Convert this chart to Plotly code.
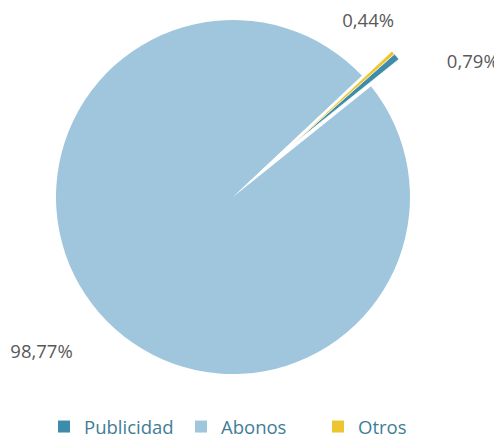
import plotly.graph_objects as go

categories = ["Publicidad", "Abonos", "Otros"]
values = [0.79, 98.77, 0.44]
colors = ["#3E8BAA", "#A0C6DD", "#EDC530"]

# page has an 8px body margin, so the figure is 494x433
W, H = 494, 433
FONT = "Open Sans"
ROT = 48.4
LABEL_FONT = dict(family=FONT, size=18.5, color="#595959")
CLEAR = "rgba(0,0,0,0)"


def dom(cx, cy, r):
    return dict(x=[(cx - r) / W, (cx + r) / W], y=[1 - (cy + r) / H, 1 - (cy - r) / H])


def pie(**kw):
    return go.Pie(labels=categories, values=values, sort=False,
                  direction="clockwise", rotation=ROT, **kw)


def label_pie(idx, cx, cy, r):
    tt = ["", "", ""]
    tt[idx] = "%{percent:.2%}"
    return pie(marker=dict(colors=[CLEAR] * 3, line=dict(width=0)),
               texttemplate=tt, textposition="outside", outsidetextfont=LABEL_FONT,
               domain=dom(cx, cy, r), showlegend=False, hoverinfo="skip")


fig = go.Figure()

# Legend-only pie (tiny, invisible)
fig.add_trace(pie(marker=dict(colors=colors), textinfo="none",
                  domain=dict(x=[0, 0.0005], y=[0, 0.0005]),
                  showlegend=True, hoverinfo="skip"))

# Main pie: Abonos drawn, small slices leave a white gap
fig.add_trace(pie(marker=dict(colors=["#FFFFFF", colors[1], "#FFFFFF"], line=dict(width=0)),
                  textinfo="none", domain=dom(225, 189, 177), showlegend=False))

# Exploded small slices
fig.add_trace(pie(marker=dict(colors=[colors[0], CLEAR, colors[2]],
                              line=dict(color=["#FFFFFF", CLEAR, "#FFFFFF"], width=[0.6, 0, 0.6])),
                  textinfo="none", domain=dom(284, 137, 137), showlegend=False))

# Outside data labels
fig.add_trace(label_pie(1, 222, 206, 200))   # Abonos
fig.add_trace(label_pie(0, 318, 154, 150))   # Publicidad
fig.add_trace(label_pie(2, 291, 51, 50))     # Otros

fig.update_layout(
    width=W, height=H,
    margin=dict(l=0, r=0, t=0, b=0, autoexpand=False),
    paper_bgcolor="white",
    separators=",.",
    font=dict(family=FONT),
    legend=dict(orientation="h", x=36 / W, xanchor="left", y=-5 / H, yanchor="bottom",
                font=dict(family=FONT, size=18.5, color="#3E7E96"),
                entrywidth=92, entrywidthmode="pixels"),
)

fig.write_html("out.html")
